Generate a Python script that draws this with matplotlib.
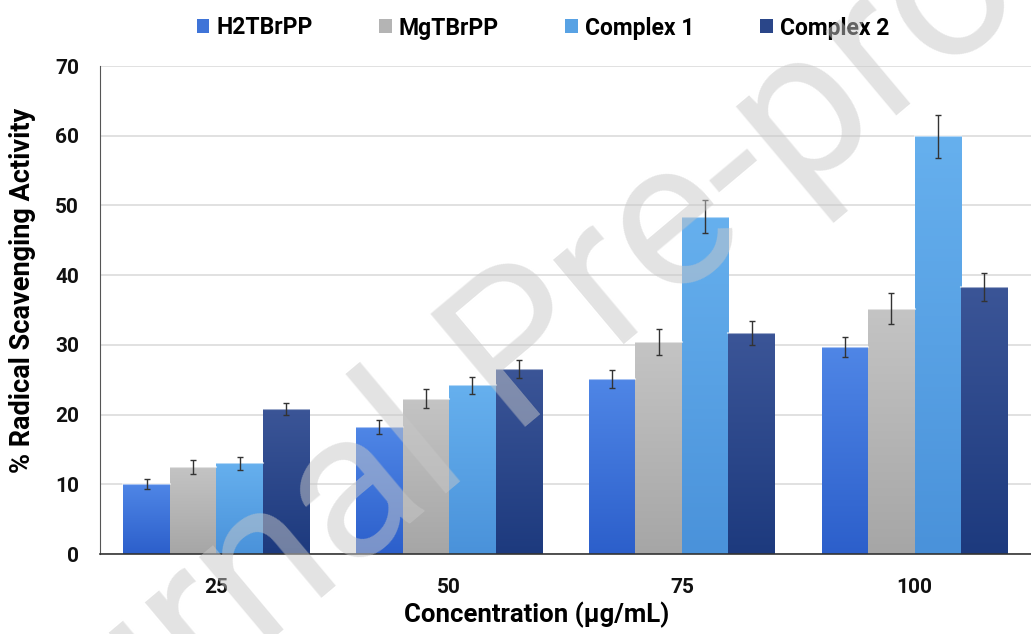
import numpy as np
import matplotlib
matplotlib.use("Agg")
import matplotlib.pyplot as plt
from matplotlib.colors import to_rgb

categories = ["25", "50", "75", "100"]
series_names = ["H2TBrPP", "MgTBrPP", "Complex 1", "Complex 2"]
h2 = [10.0, 18.2, 25.1, 29.7]
mg = [12.5, 22.3, 30.4, 35.2]
c1 = [13.0, 24.2, 48.4, 59.9]
c2 = [20.8, 26.5, 31.7, 38.3]
h2_err = [0.7, 1.0, 1.3, 1.4]
mg_err = [1.0, 1.3, 1.9, 2.2]
c1_err = [0.9, 1.2, 2.4, 3.1]
c2_err = [0.9, 1.3, 1.7, 2.0]
yticks = [0, 10, 20, 30, 40, 50, 60, 70]

values = [h2, mg, c1, c2]
errors = [h2_err, mg_err, c1_err, c2_err]
top_cols = ["#4f86e6", "#c4c4c4", "#66b0ee", "#3b5597"]
bot_cols = ["#2c5fcb", "#a6a6a6", "#4a92da", "#1d3a7e"]
leg_cols = ["#3f74d8", "#b4b4b4", "#58a2e4", "#2a4689"]

plt.rcParams['font.family'] = ['Roboto', 'DejaVu Sans']
fig = plt.figure(figsize=(10.31, 6.34), dpi=100)
ax = fig.add_axes([100/1031, 1-554/634, 931/1031, (554-66)/634])

x = np.arange(len(categories))
w = 0.2
for i in range(4):
    pos = x + (i - 1.5) * w
    bars = ax.bar(pos, values[i], width=w, color=leg_cols[i], label=series_names[i],
                  zorder=2, edgecolor='none')
    t = np.array(to_rgb(top_cols[i])); b = np.array(to_rgb(bot_cols[i]))
    grad = np.linspace(0, 1, 100)[:, None, None]
    img = t * (1 - grad) + b * grad
    for bar in bars:
        x0, y0 = bar.get_x(), bar.get_y()
        bw, bh = bar.get_width(), bar.get_height()
        im = ax.imshow(img, extent=[x0, x0 + bw, y0, y0 + bh], aspect='auto',
                       zorder=2.1, origin='upper')
        im.set_clip_path(bar)
        ax.plot([x0, x0 + bw], [y0 + bh, y0 + bh], color='white', alpha=0.5, lw=1.5,
                zorder=2.2)
    ax.errorbar(pos, values[i], yerr=errors[i], fmt='none', ecolor='#333333',
                elinewidth=1, capsize=2.5, capthick=1, zorder=3)

ax.set_xlim(-0.5, 3.5)
ax.set_ylim(0, 70)
ax.set_yticks(yticks)
ax.set_xticks(x)
ax.set_xticklabels(categories, fontsize=15, fontweight='bold')
ax.set_yticklabels([str(v) for v in yticks], fontsize=15, fontweight='bold')
ax.tick_params(axis='x', length=0, pad=17, colors='#111111')
ax.tick_params(axis='y', length=0, pad=15, colors='#111111')
ax.yaxis.grid(True, color='#dcdcdc', lw=1.2, zorder=0)
ax.set_axisbelow(True)
for s in ['top', 'right']:
    ax.spines[s].set_visible(False)
ax.spines['left'].set_color('#555555')
ax.spines['bottom'].set_color('#333333')
ax.spines['bottom'].set_linewidth(1.2)
ax.set_xlabel("Concentration (µg/mL)", fontsize=18.5, fontweight='bold')
ax.xaxis.set_label_coords((537-100)/931, -(602-554)/488)
ax.set_ylabel("% Radical Scavenging Activity", fontsize=19.5, fontweight='bold')
ax.yaxis.set_label_coords(-(100-36)/931, (554-290)/488)

leg = fig.legend(loc='center', bbox_to_anchor=(543/1031, 1-28/634), ncol=4, frameon=False,
                 fontsize=16.5, handlelength=0.55, handleheight=0.55, columnspacing=2.9,
                 handletextpad=0.3)
for t in leg.get_texts():
    t.set_fontweight('bold')

fig.text(0.505, 0.44, "Journal Pre-proof", fontsize=150, color='#c8c8c8', alpha=0.5,
         rotation=40, ha='center', va='center', zorder=10)

fig.savefig("out.png", dpi=100)
